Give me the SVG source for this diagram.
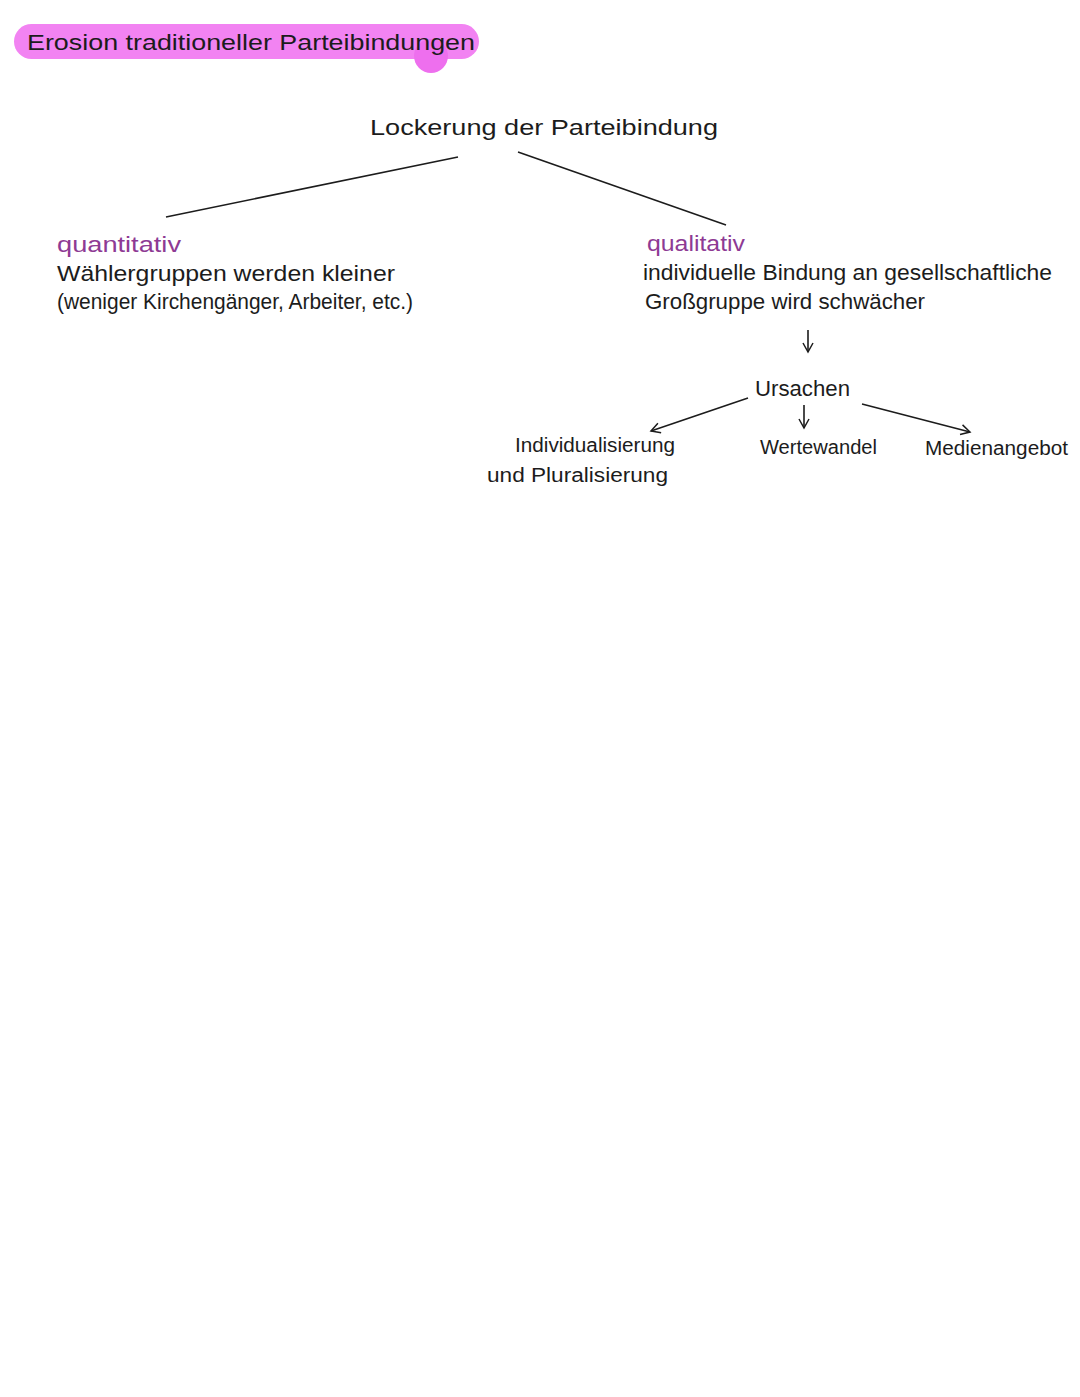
<svg xmlns="http://www.w3.org/2000/svg" width="1080" height="1397" viewBox="0 0 1080 1397">
<style>
text{font-family:"Liberation Sans",Arial,sans-serif;fill:#1c1c1c;font-size:22px}
.s{font-size:20px}
.p{fill:#8e3a94}
.c{stroke:#1c1c1c;stroke-width:1.6;fill:none}
</style>
<defs>
<marker id="ah" markerWidth="12" markerHeight="12" refX="10" refY="6" orient="auto" markerUnits="userSpaceOnUse">
<path d="M1,1 L10,6 L1,11" fill="none" stroke="#1c1c1c" stroke-width="1.5"/>
</marker>
</defs>
<rect width="1080" height="1397" fill="#fff"/>
<g id="title">
<rect x="14" y="24" width="465" height="35" rx="17.5" fill="#f283f2"/>
<circle cx="431" cy="56" r="17" fill="#ee6fee"/>
<text x="27" y="50" textLength="448" lengthAdjust="spacingAndGlyphs">Erosion   traditioneller   Parteibindungen</text>
</g>
<g id="lockerung">
<text x="370" y="135" font-size="25" textLength="348" lengthAdjust="spacingAndGlyphs">Lockerung  der  Parteibindung</text>
</g>
<g id="quantitativ">
<text class="p" x="57" y="252" textLength="124" lengthAdjust="spacingAndGlyphs">quantitativ</text>
<text x="57" y="281" textLength="338" lengthAdjust="spacingAndGlyphs">Wählergruppen  werden  kleiner</text>
<text x="57" y="309" textLength="356" lengthAdjust="spacingAndGlyphs">(weniger Kirchengänger, Arbeiter, etc.)</text>
</g>
<g id="qualitativ">
<text class="p" x="647" y="251" textLength="98" lengthAdjust="spacingAndGlyphs">qualitativ</text>
<text x="643" y="280" textLength="409" lengthAdjust="spacingAndGlyphs">individuelle  Bindung  an  gesellschaftliche</text>
<text x="645" y="309" textLength="280" lengthAdjust="spacingAndGlyphs">Großgruppe  wird  schwächer</text>
</g>
<g id="ursachen">
<text x="755" y="396" textLength="95" lengthAdjust="spacingAndGlyphs">Ursachen</text>
</g>
<g id="individualisierung">
<text class="s" x="515" y="452" textLength="160" lengthAdjust="spacingAndGlyphs">Individualisierung</text>
<text class="s" x="487" y="482" textLength="181" lengthAdjust="spacingAndGlyphs">und Pluralisierung</text>
</g>
<g id="wertewandel">
<text class="s" x="760" y="454" textLength="117" lengthAdjust="spacingAndGlyphs">Wertewandel</text>
</g>
<g id="medienangebot">
<text class="s" x="925" y="455" textLength="143" lengthAdjust="spacingAndGlyphs">Medienangebot</text>
</g>
<g id="connectors">
<line class="c" x1="458" y1="157" x2="166" y2="217"/>
<line class="c" x1="518" y1="152" x2="726" y2="225"/>
<line class="c" x1="808" y1="330" x2="808" y2="352" marker-end="url(#ah)"/>
<line class="c" x1="748" y1="398" x2="651" y2="431" marker-end="url(#ah)"/>
<line class="c" x1="804" y1="405" x2="804" y2="428" marker-end="url(#ah)"/>
<line class="c" x1="862" y1="404" x2="970" y2="432" marker-end="url(#ah)"/>
</g>
</svg>
